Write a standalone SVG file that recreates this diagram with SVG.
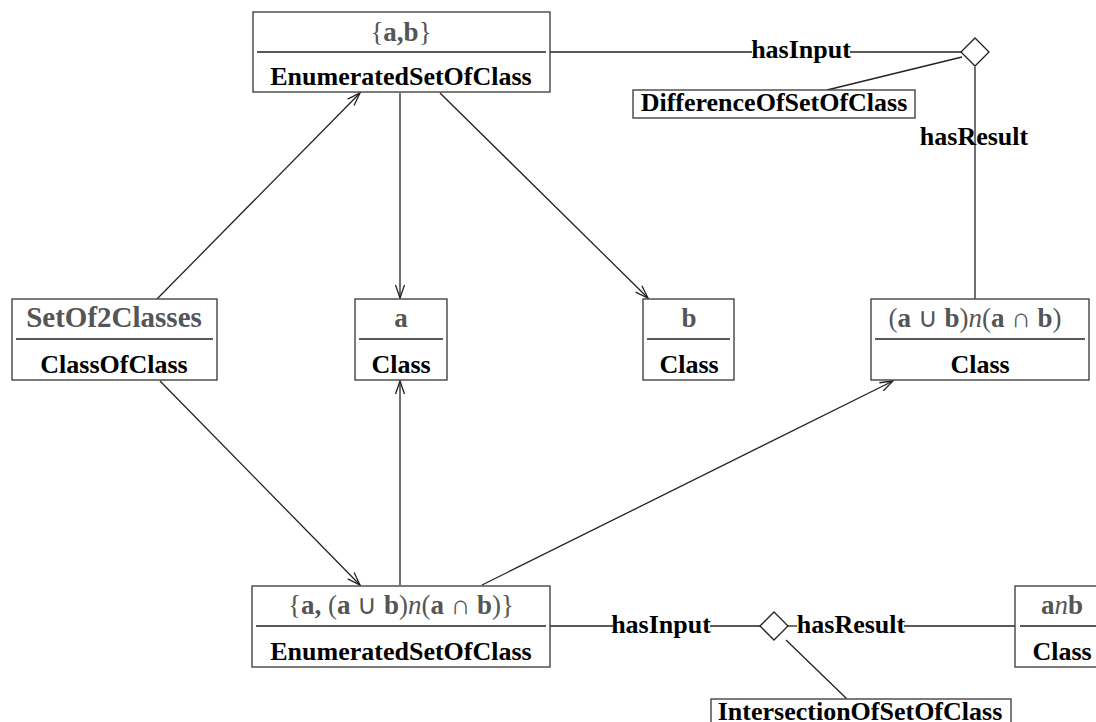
<svg xmlns="http://www.w3.org/2000/svg" width="1096" height="722" viewBox="0 0 1096 722">
  <style>
    .box { fill: #fff; stroke: #444; stroke-width: 1.4; }
    .div { stroke: #222; stroke-width: 1.4; }
    .lbl { font-family: "Liberation Serif", "Times New Roman", serif; font-weight: bold; font-size: 26px; fill: #000; text-anchor: middle; }
    .inst { font-family: "Liberation Serif", "Times New Roman", serif; font-weight: bold; font-size: 27px; fill: #555; text-anchor: middle; }
    .rg { font-weight: normal; }
    .it { font-weight: normal; font-style: italic; }
    .edge { stroke: #222; stroke-width: 1.3; fill: none; }
    .arrow { stroke: #222; stroke-width: 1.3; fill: none; marker-end: url(#open); }
  </style>
  <defs>
    <marker id="open" viewBox="0 0 15 12" refX="14" refY="6" markerWidth="15" markerHeight="12" markerUnits="userSpaceOnUse" orient="auto">
      <path d="M1,1.5 L14,6 L1,10.5" fill="none" stroke="#222" stroke-width="1.3"/>
    </marker>
  </defs>
  <rect width="1096" height="722" fill="#fff"/>

  <!-- connectors -->
  <g id="connectors">
    <line class="arrow" x1="157" y1="299" x2="360" y2="93"/>
    <line class="arrow" x1="400" y1="93" x2="400" y2="298"/>
    <line class="arrow" x1="440" y1="93" x2="648" y2="298"/>
    <line class="arrow" x1="160" y1="381" x2="360" y2="585"/>
    <line class="arrow" x1="400" y1="585" x2="400" y2="381"/>
    <line class="arrow" x1="482" y1="585" x2="893" y2="381"/>

    <!-- difference operation -->
    <line class="edge" x1="550" y1="52" x2="752" y2="52"/>
    <line class="edge" x1="850" y1="52" x2="961" y2="52"/>
    <line class="edge" x1="962" y1="57" x2="827" y2="90"/>
    <line class="edge" x1="975" y1="67" x2="975" y2="299"/>
    <polygon points="961,52 975,38 989,52 975,66" fill="#fff" stroke="#222" stroke-width="1.3"/>
    <text class="lbl" x="801" y="58">hasInput</text>
    <text class="lbl" x="974" y="145">hasResult</text>

    <!-- intersection operation -->
    <line class="edge" x1="550" y1="626" x2="613" y2="626"/>
    <line class="edge" x1="710" y1="626" x2="760" y2="626"/>
    <line class="edge" x1="788" y1="626" x2="797" y2="626"/>
    <line class="edge" x1="904" y1="626" x2="1015" y2="626"/>
    <line class="edge" x1="786" y1="640" x2="847" y2="699"/>
    <polygon points="760,626 774,612 788,626 774,640" fill="#fff" stroke="#222" stroke-width="1.3"/>
    <text class="lbl" x="661" y="633">hasInput</text>
    <text class="lbl" x="851" y="633">hasResult</text>
  </g>

  <g id="set-ab">
    <rect class="box" x="253" y="12" width="297" height="80"/>
    <line class="div" x1="257" y1="52" x2="546" y2="52"/>
    <text class="inst" x="401" y="41"><tspan class="rg">{</tspan>a,b<tspan class="rg">}</tspan></text>
    <text class="lbl" x="401" y="85">EnumeratedSetOfClass</text>
  </g>

  <g id="difference">
    <rect class="box" x="633" y="90" width="282" height="28"/>
    <text class="lbl" x="774" y="111">DifferenceOfSetOfClass</text>
  </g>

  <g id="set-of-2-classes">
    <rect class="box" x="12" y="299" width="205" height="81"/>
    <line class="div" x1="16" y1="339" x2="213" y2="339"/>
    <text class="inst" x="114" y="327" style="font-size:29px">SetOf2Classes</text>
    <text class="lbl" x="114" y="373">ClassOfClass</text>
  </g>

  <g id="class-a">
    <rect class="box" x="355" y="299" width="92" height="81"/>
    <line class="div" x1="359" y1="339" x2="443" y2="339"/>
    <text class="inst" x="401" y="327">a</text>
    <text class="lbl" x="401" y="373">Class</text>
  </g>

  <g id="class-b">
    <rect class="box" x="643" y="299" width="91" height="81"/>
    <line class="div" x1="647" y1="339" x2="730" y2="339"/>
    <text class="inst" x="689" y="327">b</text>
    <text class="lbl" x="689" y="373">Class</text>
  </g>

  <g id="class-difference">
    <rect class="box" x="871" y="299" width="218" height="81"/>
    <line class="div" x1="875" y1="339" x2="1085" y2="339"/>
    <text class="inst" x="975" y="327"><tspan class="rg">(</tspan>a <tspan class="rg">∪</tspan> b<tspan class="rg">)</tspan><tspan class="it">n</tspan><tspan class="rg">(</tspan>a <tspan class="rg">∩</tspan> b<tspan class="rg">)</tspan></text>
    <text class="lbl" x="980" y="373">Class</text>
  </g>

  <g id="set-a-difference">
    <rect class="box" x="252" y="586" width="298" height="81"/>
    <line class="div" x1="256" y1="626" x2="546" y2="626"/>
    <text class="inst" x="401" y="614"><tspan class="rg">{</tspan>a, <tspan class="rg">(</tspan>a <tspan class="rg">∪</tspan> b<tspan class="rg">)</tspan><tspan class="it">n</tspan><tspan class="rg">(</tspan>a <tspan class="rg">∩</tspan> b<tspan class="rg">)}</tspan></text>
    <text class="lbl" x="401" y="660">EnumeratedSetOfClass</text>
  </g>

  <g id="intersection">
    <rect class="box" x="711" y="699" width="300" height="34"/>
    <text class="lbl" x="860" y="720">IntersectionOfSetOfClass</text>
  </g>

  <g id="class-anb">
    <rect class="box" x="1015" y="586" width="94" height="81"/>
    <line class="div" x1="1020" y1="626" x2="1105" y2="626"/>
    <text class="inst" x="1062" y="614">a<tspan class="it">n</tspan>b</text>
    <text class="lbl" x="1062" y="660">Class</text>
  </g>
</svg>
